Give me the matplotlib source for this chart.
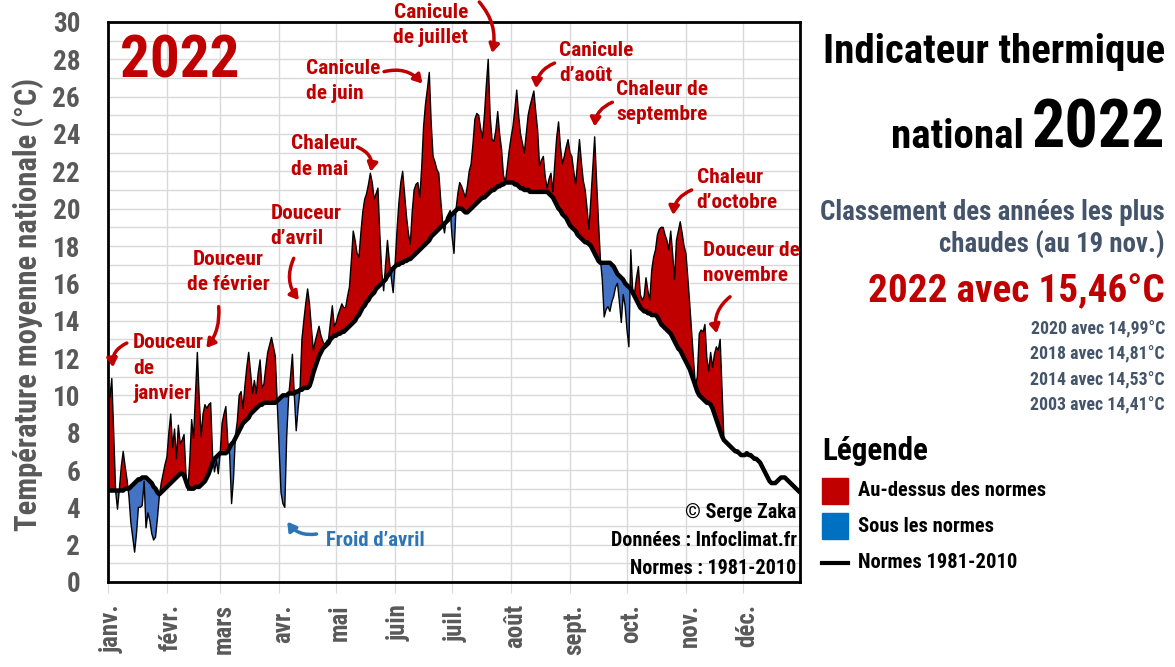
import numpy as np
import matplotlib
matplotlib.use('Agg')
import matplotlib.pyplot as plt
from matplotlib import font_manager
from matplotlib.patches import Rectangle
from matplotlib.lines import Line2D
from matplotlib.transforms import ScaledTranslation

# daily national mean temperature 2022 (1 Jan -> 21 Nov), deg C
temp_2022 = [
    10.0, 9.9, 10.9, 8.0, 4.9, 3.9, 5.0, 6.2, 7.0, 6.2,
    5.5, 4.6, 3.2, 2.4, 1.6, 2.6, 4.0, 4.0, 4.1, 5.4,
    2.9, 3.7, 3.3, 2.6, 2.25, 2.4, 3.4, 4.6, 5.3, 5.8,
    6.3, 6.7, 8.0, 9.0, 7.2, 8.2, 6.6, 8.4, 7.4, 7.6,
    7.9, 5.8, 4.9, 6.5, 8.7, 7.7, 10.0, 12.3, 9.8, 7.8,
    9.0, 9.5, 9.3, 9.5, 9.6, 6.8, 5.9, 6.5, 5.8, 6.9,
    8.5, 9.0, 9.4, 7.5, 6.8, 4.2, 5.5, 7.8, 8.6, 10.0,
    10.2, 9.3, 10.5, 11.5, 12.3, 11.2, 10.1, 10.8, 10.1, 11.2,
    11.9, 10.4, 10.6, 11.5, 12.3, 12.7, 13.1, 12.6, 12.1, 9.7,
    7.2, 4.8, 4.2, 4.0, 7.8, 9.9, 11.0, 12.2, 10.0, 8.1,
    9.3, 10.3, 13.0, 14.0, 14.9, 15.7, 14.9, 13.6, 12.4, 12.9,
    13.3, 13.7, 13.2, 12.9, 12.7, 12.9, 13.0, 13.9, 14.8, 13.7,
    13.9, 14.3, 14.6, 14.9, 14.7, 14.7, 15.3, 15.8, 17.2, 18.8,
    18.3, 17.6, 17.4, 18.7, 19.8, 20.5, 20.8, 21.3, 21.9, 21.4,
    20.5, 20.8, 21.1, 18.6, 16.6, 15.6, 17.0, 18.3, 17.2, 16.3,
    15.5, 17.0, 18.8, 20.3, 21.4, 22.0, 20.8, 19.6, 18.7, 18.1,
    19.8, 21.0, 21.3, 21.4, 20.6, 22.2, 24.4, 25.6, 26.4, 27.3,
    24.6, 22.8, 22.5, 22.1, 21.9, 20.5, 19.3, 18.7, 19.5, 19.7,
    19.9, 18.5, 17.6, 19.9, 20.8, 21.4, 21.2, 20.9, 20.6, 21.2,
    22.0, 22.4, 23.5, 24.8, 25.1, 25.0, 24.3, 23.8, 25.0, 26.6,
    28.0, 25.0, 23.7, 23.6, 24.2, 25.2, 24.0, 23.2, 21.8, 21.4,
    22.2, 23.1, 23.8, 24.4, 25.3, 26.35, 25.0, 24.0, 23.5, 23.0,
    24.0, 25.0, 25.5, 25.9, 26.3, 25.2, 24.2, 22.3, 22.6, 22.8,
    21.7, 21.1, 21.6, 21.9, 20.9, 22.4, 23.8, 24.65, 23.3, 22.4,
    22.8, 23.3, 23.7, 23.0, 22.8, 22.0, 21.3, 22.5, 23.7, 22.5,
    21.5, 21.0, 20.0, 18.9, 20.5, 22.2, 23.85, 21.5, 19.3, 17.3,
    16.2, 14.2, 14.6, 14.75, 14.5, 15.0, 15.3, 15.8, 16.0, 15.0,
    13.9, 15.4, 14.8, 13.5, 12.6, 17.8, 15.6, 15.5, 16.3, 16.9,
    15.4, 15.1, 15.3, 16.3, 15.6, 15.1, 16.7, 17.4, 17.8, 18.6,
    18.9, 19.0, 19.0, 18.6, 18.3, 17.8, 18.8, 17.6, 16.2, 18.3,
    18.8, 19.3, 18.7, 18.0, 17.6, 16.3, 14.9, 13.4, 11.9, 10.5,
    11.0, 13.3, 13.5, 13.4, 13.8, 12.0, 11.3, 12.3, 11.5, 12.2,
    12.6, 12.4, 13.0, 10.3, 7.6,
]

# daily normals 1981-2010, deg C
normals = [
    4.9, 4.9, 4.9, 4.9, 4.9, 4.9, 4.9, 4.9, 4.9, 5.0,
    5.0, 5.0, 5.1, 5.2, 5.3, 5.4, 5.5, 5.5, 5.6, 5.6,
    5.6, 5.5, 5.4, 5.3, 5.1, 5.0, 4.8, 4.7, 4.8, 4.9,
    5.0, 5.1, 5.2, 5.3, 5.4, 5.5, 5.6, 5.7, 5.8, 5.8,
    5.7, 5.4, 5.1, 5.0, 5.0, 5.0, 5.1, 5.1, 5.1, 5.2,
    5.3, 5.4, 5.6, 5.8, 6.1, 6.4, 6.6, 6.7, 6.8, 6.9,
    6.9, 6.9, 6.9, 7.0, 7.2, 7.4, 7.5, 7.7, 7.9, 8.1,
    8.3, 8.5, 8.6, 8.7, 8.8, 9.0, 9.1, 9.2, 9.3, 9.4,
    9.5, 9.5, 9.6, 9.6, 9.6, 9.6, 9.6, 9.6, 9.6, 9.7,
    9.8, 9.9, 10.0, 10.0, 10.0, 10.1, 10.1, 10.1, 10.1, 10.2,
    10.2, 10.3, 10.3, 10.4, 10.4, 10.4, 10.5, 10.8, 11.2, 11.5,
    11.8, 12.1, 12.3, 12.5, 12.6, 12.7, 12.8, 13.0, 13.1, 13.2,
    13.2, 13.3, 13.3, 13.4, 13.4, 13.5, 13.6, 13.7, 13.8, 13.9,
    14.0, 14.2, 14.3, 14.5, 14.7, 14.8, 15.0, 15.1, 15.3, 15.4,
    15.5, 15.7, 15.8, 15.9, 16.0, 16.1, 16.2, 16.4, 16.5, 16.7,
    16.8, 16.9, 17.0, 17.0, 17.1, 17.1, 17.2, 17.2, 17.3, 17.3,
    17.4, 17.5, 17.6, 17.7, 17.8, 17.9, 18.0, 18.1, 18.2, 18.3,
    18.5, 18.6, 18.7, 18.8, 18.9, 19.0, 19.1, 19.2, 19.3, 19.4,
    19.6, 19.7, 19.8, 19.9, 20.0, 20.0, 20.0, 19.9, 19.8, 19.8,
    19.9, 20.0, 20.1, 20.2, 20.3, 20.4, 20.5, 20.6, 20.6, 20.7,
    20.8, 20.9, 21.0, 21.0, 21.1, 21.2, 21.2, 21.3, 21.3, 21.4,
    21.4, 21.4, 21.4, 21.4, 21.3, 21.3, 21.2, 21.1, 21.1, 21.0,
    21.0, 21.0, 20.9, 20.9, 20.9, 20.9, 20.9, 20.9, 20.9, 20.9,
    20.9, 20.9, 20.8, 20.7, 20.6, 20.4, 20.2, 20.0, 19.9, 19.7,
    19.6, 19.5, 19.3, 19.1, 19.0, 18.9, 18.8, 18.6, 18.5, 18.4,
    18.3, 18.2, 18.2, 18.1, 18.0, 17.8, 17.6, 17.4, 17.2, 17.1,
    17.1, 17.1, 17.1, 17.1, 17.1, 17.0, 16.9, 16.7, 16.5, 16.4,
    16.3, 16.2, 16.0, 15.9, 15.8, 15.7, 15.5, 15.3, 15.1, 14.9,
    14.7, 14.6, 14.5, 14.5, 14.4, 14.4, 14.3, 14.3, 14.3, 14.2,
    14.0, 13.8, 13.7, 13.6, 13.5, 13.4, 13.3, 13.1, 12.9, 12.7,
    12.5, 12.4, 12.2, 12.0, 11.8, 11.6, 11.4, 11.1, 10.8, 10.5,
    10.2, 10.0, 9.9, 9.8, 9.7, 9.6, 9.6, 9.5, 9.3, 9.0,
    8.7, 8.4, 8.1, 7.8, 7.6, 7.5, 7.4, 7.3, 7.2, 7.1,
    7.0, 7.0, 6.9, 6.8, 6.8, 6.8, 6.9, 6.8, 6.8, 6.7,
    6.6, 6.6, 6.5, 6.4, 6.2, 6.0, 5.8, 5.6, 5.4, 5.3,
    5.3, 5.3, 5.4, 5.5, 5.6, 5.6, 5.6, 5.5, 5.4, 5.3,
    5.2, 5.1, 5.0, 4.9, 4.8,
]

month_start = [0, 31, 59, 90, 120, 151, 181, 212, 243, 273, 304, 334]
month_labels = ['janv.', 'févr.', 'mars', 'avr.', 'mai', 'juin',
                'juil.', 'août', 'sept.', 'oct.', 'nov.', 'déc.']

ranking_years = ['2020', '2018', '2014', '2003']
ranking_values = ['14,99', '14,81', '14,53', '14,41']

RED = '#C00000'
BLUE = '#4472C4'
SLATE = '#44546A'
GREY = '#595959'

# narrow font if one is installed, else condensed DejaVu
names = {f.name for f in font_manager.fontManager.ttflist}
SCALE = 1.0
picked = None
for fam, sc in [('Roboto Condensed', 1.15), ('Liberation Sans Narrow', 1.15),
                ('Noto Sans Condensed', 1.15)]:
    if fam in names:
        picked, SCALE = fam, sc
        break
if picked:
    plt.rcParams['font.family'] = [picked, 'DejaVu Sans']
else:
    plt.rcParams['font.family'] = ['DejaVu Sans']
    plt.rcParams['font.stretch'] = 'condensed'
plt.rcParams['font.weight'] = 'bold'


def fs(size):
    return size * SCALE


fig = plt.figure(figsize=(11.75, 6.67), dpi=100)
ax = fig.add_axes([108 / 1175, 1 - 582 / 667, 692 / 1175, 560 / 667])

days = np.arange(len(temp_2022))
t = np.array(temp_2022)
n_part = np.array(normals[:len(temp_2022)])
ax.fill_between(days, n_part, t, where=t >= n_part, interpolate=True,
                color=RED, lw=0, zorder=2)
ax.fill_between(days, n_part, t, where=t < n_part, interpolate=True,
                color=BLUE, lw=0, zorder=2)
ax.plot(days, t, color='black', lw=1, zorder=3)
ax.plot(np.arange(len(normals)), normals, color='black', lw=3.2, zorder=4)

ax.set_xlim(0, 364)
ax.set_ylim(0, 30)
ax.set_yticks(range(0, 31, 2))
ax.set_yticks(range(0, 31), minor=True)
ax.set_xticks(month_start)
ax.set_xticklabels(month_labels, rotation=90, va='top', ha='center')
ax.tick_params(axis='y', which='both', length=0, pad=20, labelsize=19.5,
               labelcolor=GREY)
ax.tick_params(axis='x', length=8, color='#D9D9D9', pad=8, labelsize=18,
               labelcolor=GREY)
shift = ScaledTranslation(4 / 100, 0, fig.dpi_scale_trans)
for lab in ax.get_xticklabels():
    lab.set_transform(lab.get_transform() + shift)
ax.grid(True, which='both', axis='y', color='#D9D9D9', lw=1, zorder=0)
ax.grid(True, which='major', axis='x', color='#D9D9D9', lw=1, zorder=0)
ax.set_axisbelow(True)
for s in ax.spines.values():
    s.set_linewidth(2)
    s.set_color('black')

fig.text(28 / 1175, 1 - 304 / 667, 'Température moyenne nationale (°C)',
         rotation=90, ha='center', va='center', fontsize=fs(19.2), color=GREY)

ax.text(0.017, 0.93, '2022', transform=ax.transAxes, ha='left', va='center',
        fontsize=fs(37), color=RED)

# annotations: (text, text x, text y, ha, arrow start, arrow end, rad)
notes = [
    ('Douceur\nde\njanvier', 13.2, 11.46, 'left', (9.9, 12.8), (2.6, 11.5), 0.35),
    ('Douceur\nde février', 63.3, 16.6, 'center', (58.2, 14.75), (51.7, 12.54), -0.2),
    ('Douceur\nd\u2019avril', 85.4, 19.07, 'left', (97.7, 17.34), (100.4, 15.1), 0.3),
    ('Chaleur\nde mai', 96.0, 22.8, 'left', (131.2, 23.3), (138.2, 21.98), -0.4),
    ('Canicule\nde juin', 103.9, 26.84, 'left', (145.2, 27.34), (165.4, 26.7), -0.3),
    ('Canicule\nde juillet', 169.8, 29.84, 'center', (195.3, 31.07), (202.0, 28.34), -0.25),
    ('Canicule\nd\u2019août', 237.3, 27.8, 'left', (234.9, 27.8), (225.2, 26.45), 0.3),
    ('Chaleur de\nseptembre', 267.4, 25.7, 'left', (265.3, 25.7), (256.0, 24.4), 0.3),
    ('Chaleur\nd\u2019octobre', 309.6, 21.0, 'left', (307.0, 21.0), (297.3, 19.66), 0.3),
    ('Douceur de\nnovembre', 313.0, 17.1, 'left', (327.2, 15.28), (320.2, 13.32), 0.3),
]
for label, tx, ty, ha, a0, a1, rad in notes:
    ax.text(tx, ty, label, ha=ha, va='center', multialignment=ha,
            fontsize=fs(13.4), color=RED, linespacing=1.42, zorder=6)
    ax.annotate('', xy=a1, xytext=a0, annotation_clip=False, zorder=6,
                arrowprops=dict(arrowstyle='-|>,head_length=0.5,head_width=0.3',
                                color=RED, lw=2.5, shrinkA=0, shrinkB=0,
                                connectionstyle='arc3,rad=%s' % rad))

ax.text(114.5, 2.2, 'Froid d\u2019avril', ha='left', va='center',
        fontsize=fs(13), color='#2E75B6', zorder=6)
ax.annotate('', xy=(94.3, 3.23), xytext=(109.7, 2.57), annotation_clip=False,
            arrowprops=dict(arrowstyle='-|>,head_length=0.5,head_width=0.3',
                            color='#2E75B6', lw=2.5, shrinkA=0, shrinkB=0,
                            connectionstyle='arc3,rad=-0.3'))

for i, line in enumerate(['© Serge Zaka', 'Données : Infoclimat.fr',
                          'Normes : 1981-2010']):
    ax.text(0.995, 0.125 - i * 0.05, line, transform=ax.transAxes,
            ha='right', va='center', fontsize=fs(12.6), color='black', zorder=6)


# right panel, positions in reference pixels
def fx(x):
    return x / 1175


def fy(y):
    return 1 - y / 667


fig.text(fx(1165), fy(52), 'Indicateur thermique', ha='right', va='center',
         fontsize=fs(25.7))
fig.text(fx(1024), fy(148), 'national', ha='right', va='baseline',
         fontsize=fs(25.7))
fig.text(fx(1165), fy(148), '2022', ha='right', va='baseline', fontsize=fs(41.5))
fig.text(fx(1165), fy(212), 'Classement des années les plus', ha='right',
         va='center', fontsize=fs(16.8), color=SLATE)
fig.text(fx(1165), fy(245), 'chaudes (au 19 nov.)', ha='right',
         va='center', fontsize=fs(16.8), color=SLATE)
fig.text(fx(1165), fy(292), '2022 avec 15,46°C', ha='right', va='center',
         fontsize=fs(24.5), color=RED)
for i, (yr, val) in enumerate(zip(ranking_years, ranking_values)):
    fig.text(fx(1165), fy(329 + i * 25.5), '%s avec %s°C' % (yr, val),
             ha='right', va='center', fontsize=fs(11.1), color=SLATE)

fig.text(fx(822), fy(451), 'Légende', ha='left', va='center', fontsize=fs(19.5))
fig.patches.append(Rectangle((fx(822), fy(504)), 26 / 1175, 26 / 667,
                             transform=fig.transFigure, color=RED))
fig.patches.append(Rectangle((fx(822), fy(539)), 26 / 1175, 26 / 667,
                             transform=fig.transFigure, color='#0070C0'))
fig.lines.append(Line2D([fx(822), fx(848)], [fy(563), fy(563)],
                        transform=fig.transFigure, color='black', lw=3))
for y, lab in [(491, 'Au-dessus des normes'), (527, 'Sous les normes'),
               (563, 'Normes 1981-2010')]:
    fig.text(fx(858), fy(y), lab, ha='left', va='center', fontsize=fs(12.8))

fig.savefig('out.png', dpi=100)
